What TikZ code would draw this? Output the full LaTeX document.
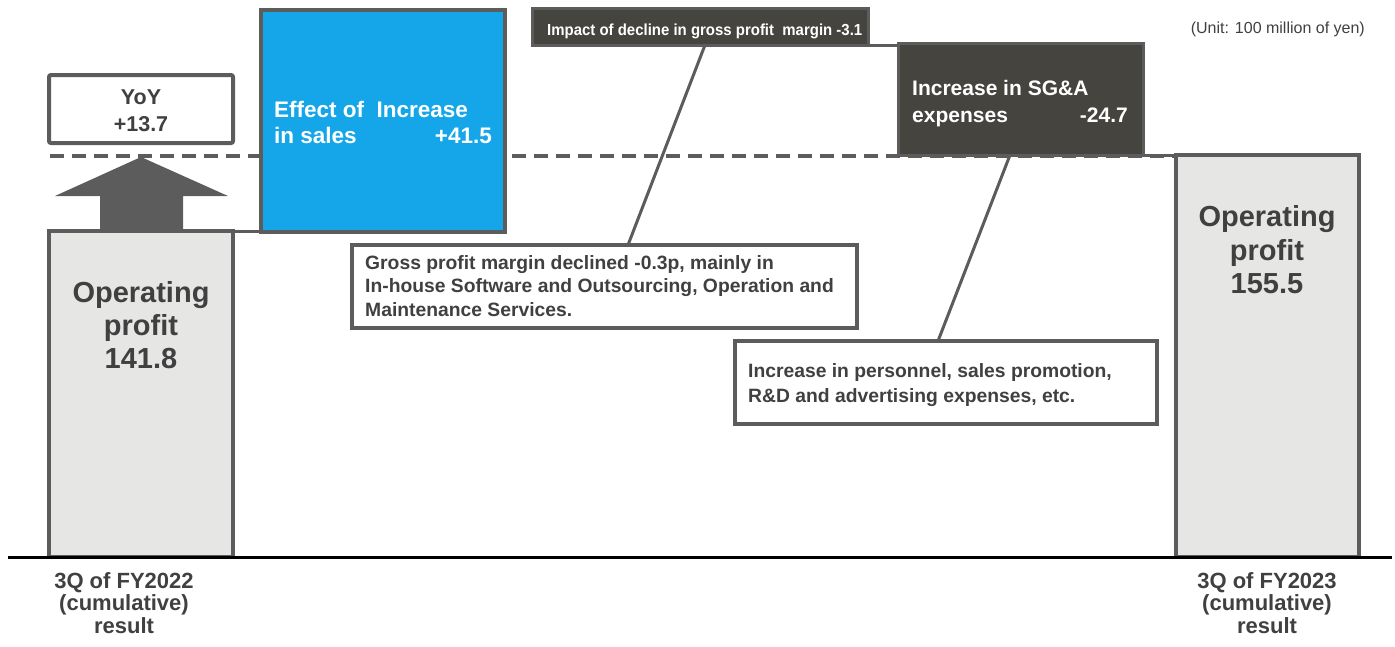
\documentclass[tikz,border=0pt]{standalone}
\usepackage{fontspec}
\setmainfont{Liberation Sans}
\definecolor{gborder}{HTML}{5C5C5C}
\definecolor{gtext}{HTML}{404040}
\definecolor{darkbox}{HTML}{45443F}
\definecolor{bluebox}{HTML}{15A6E9}
\definecolor{lightbar}{HTML}{E6E6E5}
\newcommand{\fs}[1]{\fontsize{#1}{#1}\selectfont\bfseries}
\begin{document}
\begin{tikzpicture}[x=1pt,y=-1pt,
  boxbase/.style={draw=gborder, line width=4pt, anchor=north west, inner sep=0pt, outer sep=0pt},
  barbox/.style={boxbase, fill=lightbar},
  notebox/.style={boxbase, fill=white, line width=3.5pt},
  txt/.style={inner sep=0pt, text=gtext},
  wtxt/.style={inner sep=0pt, text=white},
  conn/.style={draw=gborder, line width=3pt},
]
\useasboundingbox (0,0) rectangle (1395,646);

% dashed level line
\coordinate (d1) at (50,156);
\coordinate (d2) at (1176,156);
\draw[gborder, line width=4pt, dash pattern=on 14pt off 8pt] (d1) -- (d2);

% bars
\node[barbox, minimum width=184pt, minimum height=326pt] (L) at (49,231) {};
\node[barbox, minimum width=183pt, minimum height=402pt] (R) at (1176,155) {};

% blue box
\node[boxbase, fill=bluebox, minimum width=244pt, minimum height=222pt] (B) at (261,10) {};
% gross profit impact box
\node[boxbase, fill=darkbox, line width=3pt, minimum width=336pt, minimum height=37pt] (G) at (532,8) {};
% SG&A box
\node[boxbase, fill=darkbox, line width=3pt, minimum width=245pt, minimum height=112pt] (S) at (898,43) {};

% level connectors
\draw[conn] (L.north east) -- (L.north east -| B.west);
\draw[conn] (G.south east) -- (S.north west |- G.south east);
\draw[conn] (S.south east) -- (R.north west);

% YoY box
\node[boxbase, fill=white, rounded corners=2pt, minimum width=184pt, minimum height=68pt] (Y) at (49,75) {};

% arrow
\fill[gborder] (100,231) -- (100,196) -- (55,196) -- (141,157) -- (228,196) -- (183,196) -- (183,231) -- cycle;

% note boxes
\node[notebox, minimum width=505pt, minimum height=83pt] (N1) at (352,245) {};
\node[notebox, minimum width=422pt, minimum height=83pt] (N2) at (735,341) {};

% callout lines
\coordinate (c1) at (705,45);
\coordinate (c2) at (1010,155);
\draw[conn] (c1) -- (N1.north -| 628,0);
\draw[conn] (c2) -- (N2.north -| 938,0);

% baseline
\draw[black, line width=3pt] (8,557) -- (1392,557);

% texts
\node[txt, anchor=base] (yoy1) at (141,104) {\fs{21.5}YoY};
\node[txt, anchor=base] (yoy2) at (141,131) {\fs{21.5}+13.7};

\node[wtxt, anchor=base west] (b1) at (274,117) {\fs{22.5}Effect of\ \ Increase};
\node[wtxt, anchor=base west] (b2) at (274,143) {\fs{22.5}in sales};
\node[wtxt, anchor=base east] (b3) at (492,143) {\fs{22.5}+41.5};

\node[wtxt, anchor=base west] (g1) at (547,35) {\scalebox{0.935}[1]{\fs{16}Impact of decline in gross profit\ \ margin -3.1}};

\node[wtxt, anchor=base west] (s1) at (912,95) {\fs{21}Increase in SG\&A};
\node[wtxt, anchor=base west] (s2) at (912,122) {\fs{21}expenses};
\node[wtxt, anchor=base east] (s3) at (1128,122) {\fs{21}-24.7};

\node[txt, anchor=base west] (n11) at (365,269) {\fs{19.3}Gross profit margin declined -0.3p, mainly in};
\node[txt, anchor=base west] (n12) at (365,292) {\fs{19.3}In-house Software and Outsourcing, Operation and};
\node[txt, anchor=base west] (n13) at (365,316) {\fs{19.3}Maintenance Services.};

\node[txt, anchor=base west] (n21) at (748,377) {\fs{19.3}Increase in personnel, sales promotion,};
\node[txt, anchor=base west] (n22) at (748,402) {\fs{19.3}R\&D and advertising expenses, etc.};

\node[txt, anchor=base] (l1) at (141,302) {\fs{29}Operating};
\node[txt, anchor=base] (l2) at (141,335) {\fs{29}profit};
\node[txt, anchor=base] (l3) at (141,368) {\fs{29}141.8};

\node[txt, anchor=base] (r1) at (1267,226) {\fs{29}Operating};
\node[txt, anchor=base] (r2) at (1267,260) {\fs{29}profit};
\node[txt, anchor=base] (r3) at (1267,293) {\fs{29}155.5};

\node[txt, anchor=base] (x1) at (124,588) {\fs{22}3Q of FY2022};
\node[txt, anchor=base] (x2) at (124,610) {\fs{22}(cumulative)};
\node[txt, anchor=base] (x3) at (124,633) {\fs{22}result};

\node[txt, anchor=base] (y1) at (1267,588) {\fs{22}3Q of FY2023};
\node[txt, anchor=base] (y2) at (1267,610) {\fs{22}(cumulative)};
\node[txt, anchor=base] (y3) at (1267,633) {\fs{22}result};

\node[txt, anchor=base east] (unit) at (1365,33) {\fontsize{16}{16}\selectfont(Unit: 100 million of yen)};
\end{tikzpicture}
\end{document}
